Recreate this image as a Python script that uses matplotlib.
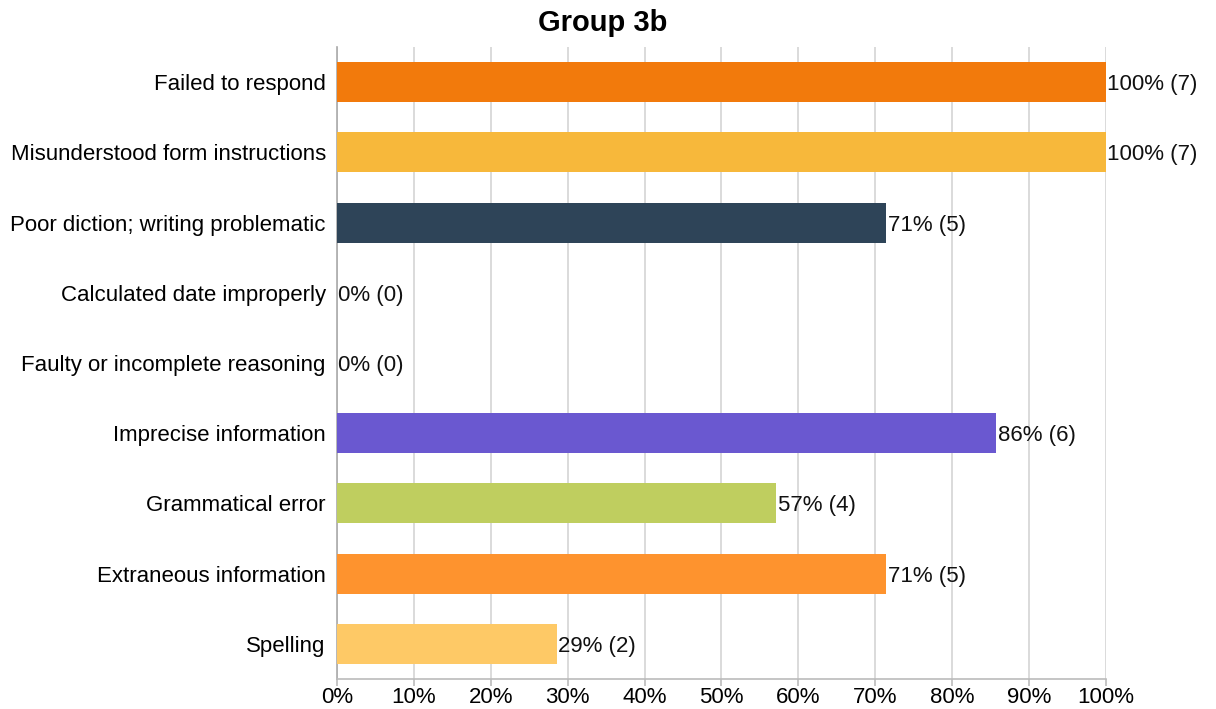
import matplotlib.pyplot as plt

# categories top-to-bottom, counts out of 7 responses
categories = [
    "Failed to respond",
    "Misunderstood form instructions",
    "Poor diction; writing problematic",
    "Calculated date improperly",
    "Faulty or incomplete reasoning",
    "Imprecise information",
    "Grammatical error",
    "Extraneous information",
    "Spelling",
]
counts = [7, 7, 5, 0, 0, 6, 4, 5, 2]
total = 7
colors = ["#F27A0C", "#F7B83B", "#2E4458", "#2E4458", "#2E4458",
          "#6A58D0", "#BFCE5F", "#FE932E", "#FEC966"]

percents = [c / total * 100 for c in counts]

plt.rcParams["font.family"] = ["Liberation Sans", "DejaVu Sans"]

fig = plt.figure(figsize=(12.16, 7.09), dpi=100)
ax = fig.add_axes([0.2771, 0.0423, 0.6324, 0.8914])

y = list(range(len(categories)))
ax.barh(y, percents, height=0.57, color=colors, zorder=3)

for yi, p, c in zip(y, percents, counts):
    ax.text(p + 0.2, yi, f"{p:.0f}% ({c})", va="center_baseline", ha="left",
            fontsize=16, color="#111111", zorder=4)

ax.set_ylim(len(categories) - 0.5, -0.5)
ax.set_xlim(0, 100)
ax.set_yticks(y)
ax.set_yticklabels(categories, fontsize=16)
ax.set_xticks(range(0, 101, 10))
ax.set_xticklabels([f"{v}%" for v in range(0, 101, 10)], fontsize=16)

ax.xaxis.grid(True, color="#D4D4D4", linewidth=1.2, zorder=0)
ax.tick_params(axis="y", length=0, pad=8)
ax.tick_params(axis="x", length=5, color="#BBBBBB", width=1.2, pad=1)

for side in ["top", "right"]:
    ax.spines[side].set_visible(False)
ax.spines["left"].set_color("#AAAAAA")
ax.spines["left"].set_linewidth(1.2)
ax.spines["bottom"].set_color("#BBBBBB")
ax.spines["bottom"].set_linewidth(1.2)

fig.text(0.4955, 0.967, "Group 3b", ha="center", va="center",
         fontsize=21, fontweight="bold")

fig.savefig("out.png", dpi=100)
